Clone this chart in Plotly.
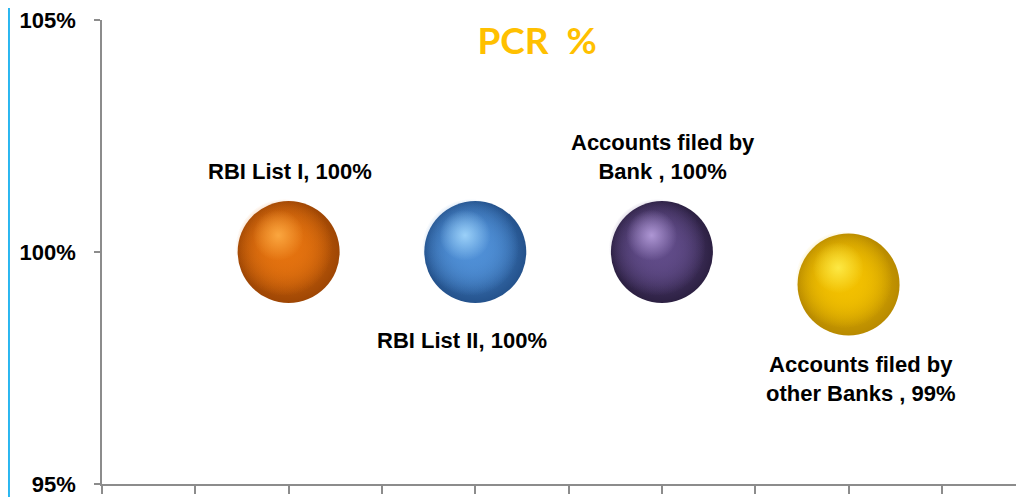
import plotly.graph_objects as go

# data
CATEGORIES = ['RBI List I', 'RBI List II', 'Accounts filed by<br>Bank ', 'Accounts filed by<br>other Banks ']
X_POS = [2, 4, 6, 8]
PCR = [100.0, 100.0, 100.0, 99.3]
Y_TICKS = [95, 100, 105]

# sphere colours: (body, edge, highlight)
SPHERE = [
    ('#E4720F', '#9E4604', '#FFB048'),
    ('#4F8FD6', '#24528C', '#A8DCFF'),
    ('#604B88', '#2C2042', '#BCA4E2'),
    ('#F2C000', '#B88A00', '#FFF050'),
]
# label offsets in px (dx, dy) relative to the bubble centre
LABEL_SHIFT = [(1, 81), (-13, -88), (1, 95), (12, -95)]

AXIS_CLR = '#8C8C8C'
FONT_ARIAL = 'Arial, Liberation Sans, sans-serif'
BUBBLE = 102


def rgba(hex_clr, a):
    h = hex_clr.lstrip('#')
    r, g, b = int(h[0:2], 16), int(h[2:4], 16), int(h[4:6], 16)
    return f'rgba({r},{g},{b},{a})'


fig = go.Figure()

for i in range(len(PCR)):
    body, edge, hi = SPHERE[i]
    # body: darker rim, coloured centre (gradient.color is the centre for radial)
    fig.add_trace(go.Scatter(
        x=[X_POS[i]], y=[PCR[i]], mode='markers',
        marker=dict(size=BUBBLE, color=edge, line=dict(width=0),
                    gradient=dict(type='radial', color=body)),
        hoverinfo='skip', showlegend=False,
    ))
    # fill the inside so the shade stays on the lower right rim
    for k in range(2):
        fig.add_trace(go.Scatter(
            x=[X_POS[i] - 0.05], y=[PCR[i] + 0.1], mode='markers',
            marker=dict(size=BUBBLE * 0.95, color=rgba(body, 0), line=dict(width=0),
                        gradient=dict(type='radial', color=body)),
            hoverinfo='skip', showlegend=False,
        ))
    # specular highlight
    fig.add_trace(go.Scatter(
        x=[X_POS[i] - 0.11], y=[PCR[i] + 0.36], mode='markers',
        marker=dict(size=BUBBLE * 0.5, color=rgba(hi, 0), line=dict(width=0),
                    gradient=dict(type='radial', color=rgba(hi, 0.85))),
        hoverinfo='skip', showlegend=False,
    ))

annotations = []
for i, name in enumerate(CATEGORIES):
    dx, dy = LABEL_SHIFT[i]
    annotations.append(dict(
        x=X_POS[i], y=PCR[i], xref='x', yref='y',
        text=f'{name}, {round(PCR[i])}%', showarrow=False,
        xshift=dx, yshift=dy, xanchor='center', yanchor='middle', align='center',
        font=dict(family=FONT_ARIAL, size=22, color='#000000', weight='bold'),
    ))

# page body has an 8px margin, so the figure is 8px smaller and margins shifted
fig.update_layout(
    width=1016, height=489,
    plot_bgcolor='white', paper_bgcolor='white',
    margin=dict(l=94, r=0, t=12, b=11),
    title=dict(
        text='PCR\u00a0\u00a0%', x=0.472, xref='paper', xanchor='center',
        y=1 - 33 / 489, yref='container', yanchor='middle',
        font=dict(family='Lato, Open Sans, sans-serif', size=37, color='#FFC000', weight='bold'),
    ),
    xaxis=dict(
        range=[0, 9.88], showgrid=False, zeroline=False,
        showline=True, linecolor=AXIS_CLR, linewidth=1.5,
        tickmode='linear', tick0=0, dtick=1, ticks='outside', ticklen=8,
        tickcolor=AXIS_CLR, tickwidth=1.5, showticklabels=False, fixedrange=True,
    ),
    yaxis=dict(
        range=[95, 105], showgrid=False, zeroline=False,
        showline=True, linecolor=AXIS_CLR, linewidth=1.5,
        tickvals=Y_TICKS, ticktext=[f'{v}%' for v in Y_TICKS],
        ticks='outside', ticklen=6, tickcolor=AXIS_CLR, tickwidth=1.5,
        ticklabelstandoff=14, ticklabeloverflow='allow',
        tickfont=dict(family=FONT_ARIAL, size=22, color='#000000', weight='bold'),
        fixedrange=True,
    ),
    annotations=annotations,
    shapes=[dict(type='line', xref='paper', yref='paper',
                 x0=-0.1009, x1=-0.1009, y0=-0.05, y1=1.05,
                 line=dict(color='#29B6F0', width=2))],
    hovermode=False,
)

fig.write_html('out.html')
